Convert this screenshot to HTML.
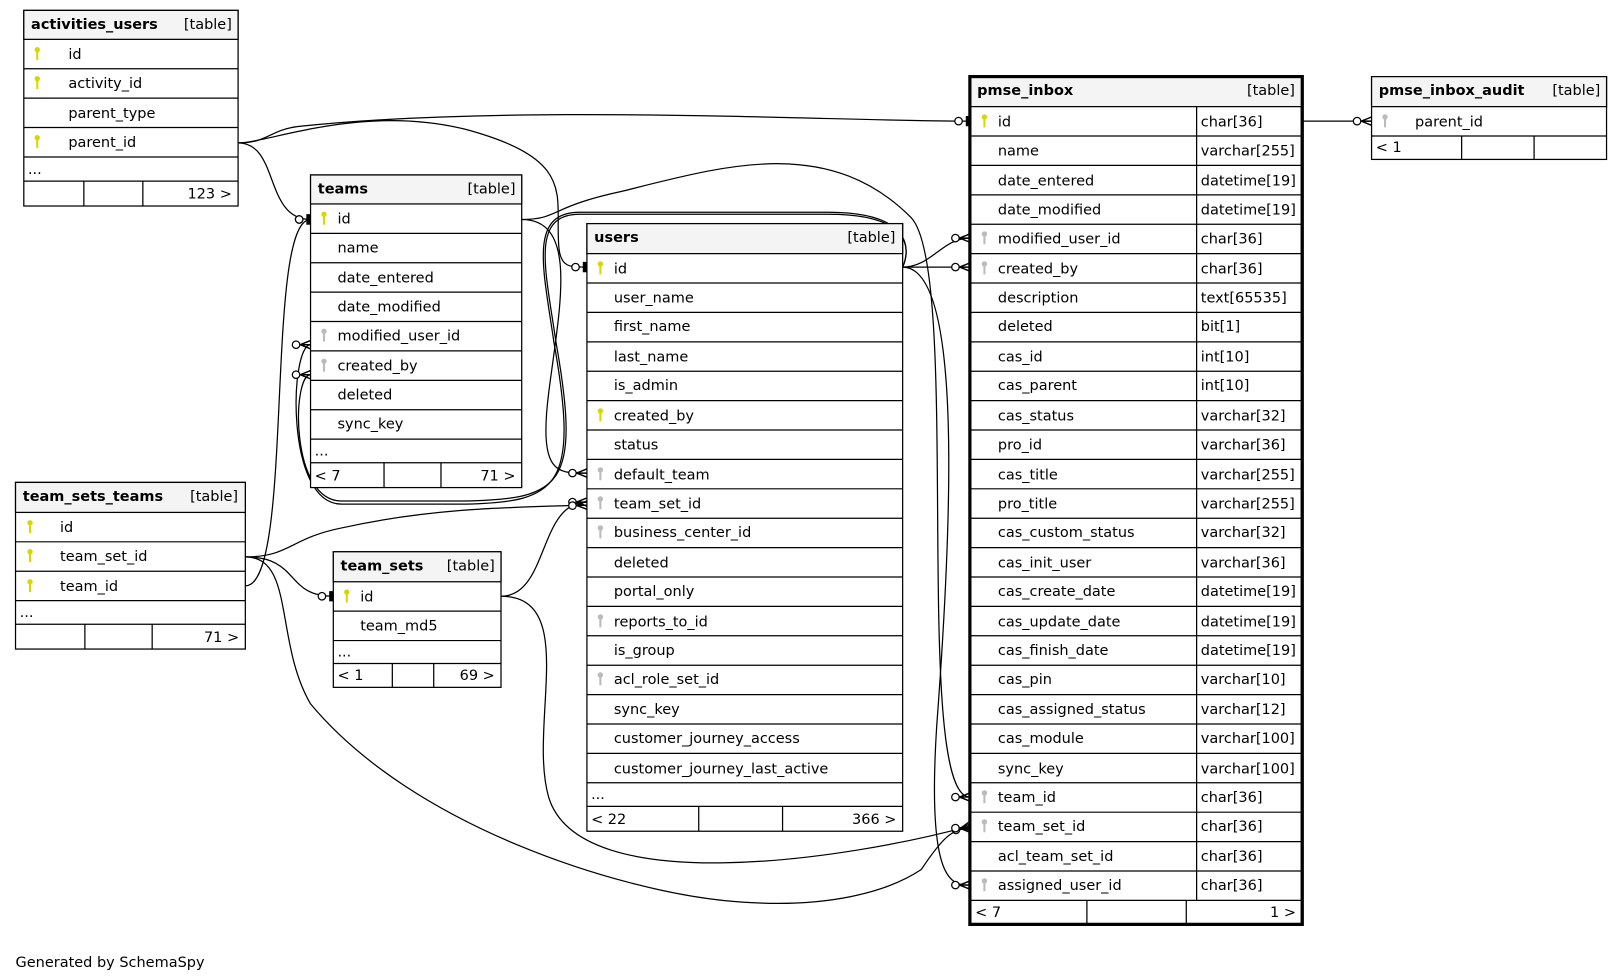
<!DOCTYPE html>
<html><head><meta charset="utf-8"><style>
html,body{margin:0;padding:0;background:#fff;}
svg{display:block;}
text{font-family:"DejaVu Sans","Liberation Sans",sans-serif;font-size:14px;fill:#000;}
.b{font-weight:bold;}
.r{text-anchor:end;}
.t{fill:#fff;stroke:#000;stroke-width:1.2;}
.h{fill:#f4f4f4;stroke:#000;stroke-width:1.2;}
.l{stroke:#000;stroke-width:1.2;}
.e{fill:none;stroke:#000;stroke-width:1.2;}
</style></head><body>
<svg width="1620" height="980" viewBox="0 0 1565 946.7" xmlns="http://www.w3.org/2000/svg">
<defs>
<marker id="many" markerUnits="userSpaceOnUse" markerWidth="24" markerHeight="16" refX="20" refY="8" orient="auto">
<circle cx="6" cy="8" r="3.6" fill="#fff" stroke="#000" stroke-width="1.2"/>
<path d="M10 8 L20 4 M10 8 L20 8 M10 8 L20 12" stroke="#000" stroke-width="1.4" fill="none"/>
</marker>
<marker id="one" markerUnits="userSpaceOnUse" markerWidth="24" markerHeight="16" refX="20" refY="8" orient="auto">
<circle cx="9" cy="8" r="3.6" fill="#fff" stroke="#000" stroke-width="1.2"/>
<path d="M17 3 L17 13 M19 3 L19 13" stroke="#000" stroke-width="2" fill="none"/>
</marker>
<g id="kg"><circle cx="0" cy="-4" r="2.6" fill="#d8d800"/><rect x="-1" y="-3" width="2" height="9" fill="#d8d800"/></g>
<g id="kw"><circle cx="0" cy="-4" r="2.6" fill="#bbb"/><rect x="-1" y="-3" width="2" height="9" fill="#bbb"/></g>
</defs>

<path class="e" d="M230,138 C260,138 260,125 290,122 C500,100 800,117 937,117" marker-end="url(#one)"/>
<path class="e" d="M230,138 C260,138 350,100 450,125 C560,155 535,190 540,240 C542,258 550,258 567,258" marker-end="url(#one)"/>
<path class="e" d="M230,138 C270,138 255,212 300,212" marker-end="url(#one)"/>
<path class="e" d="M237,566 C285,566 255,212 300,212" marker-end="url(#one)"/>
<path class="e" d="M504,212 C560,212 540,300 530,380 C520,460 540,457 567,457" marker-end="url(#many)"/>
<path class="e" d="M504,212 C540,212 530,200 600,185 C700,160 800,130 880,210 C930,260 880,770 937,770" marker-end="url(#many)"/>
<path class="e" d="M872,258 C900,258 910,230 937,230" marker-end="url(#many)"/>
<path class="e" d="M872,258 L937,258" marker-end="url(#many)"/>
<path class="e" d="M872,258 C930,258 920,500 905,700 C895,855 920,855 937,855" marker-end="url(#many)"/>
<path class="e" d="M872,258 C880,240 880,205 800,205 L560,205 C510,205 525,260 535,330 C560,470 540,485 450,487 L330,487 C275,487 280,333 300,333" marker-end="url(#many)"/>
<path class="e" d="M872,258 C880,240 880,207 800,207 L560,207 C512,207 527,260 537,330 C562,470 542,482 450,484 L330,484 C280,484 282,362 300,362" marker-end="url(#many)"/>
<path class="e" d="M484,576 C530,576 520,485 567,485" marker-end="url(#many)"/>
<path class="e" d="M484,576 C560,576 510,700 530,770 C560,870 820,830 937,798" marker-end="url(#many)"/>
<path class="e" d="M237,538 C290,538 275,576 322,576" marker-end="url(#one)"/>
<path class="e" d="M237,538 C280,538 280,520 330,510 C420,490 500,490 567,488" marker-end="url(#many)"/>
<path class="e" d="M237,538 C285,538 265,620 300,680 C400,800 600,860 700,870 C800,880 860,860 890,840 C910,810 920,800 937,800" marker-end="url(#many)"/>
<path class="e" d="M1258,117 L1325,117" marker-end="url(#many)"/>

<rect class="t" x="23" y="10" width="207" height="189"/>
<rect class="h" x="23" y="10" width="207" height="28"/>
<text class="b" x="30" y="28">activities_users</text><text class="r" x="224" y="28">[table]</text>
<line class="l" x1="23" x2="230" y1="66.4" y2="66.4"/><line class="l" x1="23" x2="230" y1="94.8" y2="94.8"/><line class="l" x1="23" x2="230" y1="123.2" y2="123.2"/><line class="l" x1="23" x2="230" y1="151.6" y2="151.6"/><line class="l" x1="23" x2="230" y1="175" y2="175"/>
<use href="#kg" x="36" y="52"/><text x="66" y="57">id</text>
<use href="#kg" x="36" y="80"/><text x="66" y="85">activity_id</text>
<text x="66" y="114">parent_type</text>
<use href="#kg" x="36" y="137"/><text x="66" y="142">parent_id</text>
<text x="27" y="168">...</text>
<line class="l" x1="81" x2="81" y1="175" y2="199"/><line class="l" x1="138" x2="138" y1="175" y2="199"/>
<text class="r" x="224" y="192">123 &gt;</text>

<rect class="t" x="300" y="169" width="204" height="302"/>
<rect class="h" x="300" y="169" width="204" height="28"/>
<text class="b" x="307" y="187">teams</text><text class="r" x="498" y="187">[table]</text>
<line class="l" x1="300" x2="504" y1="225.4" y2="225.4"/><line class="l" x1="300" x2="504" y1="253.8" y2="253.8"/><line class="l" x1="300" x2="504" y1="282.2" y2="282.2"/><line class="l" x1="300" x2="504" y1="310.6" y2="310.6"/><line class="l" x1="300" x2="504" y1="339" y2="339"/><line class="l" x1="300" x2="504" y1="367.4" y2="367.4"/><line class="l" x1="300" x2="504" y1="395.8" y2="395.8"/><line class="l" x1="300" x2="504" y1="424.2" y2="424.2"/><line class="l" x1="300" x2="504" y1="447" y2="447"/>
<use href="#kg" x="313" y="211"/><text x="326" y="216">id</text>
<text x="326" y="244">name</text>
<text x="326" y="273">date_entered</text>
<text x="326" y="301">date_modified</text>
<use href="#kw" x="313" y="324"/><text x="326" y="329">modified_user_id</text>
<use href="#kw" x="313" y="353"/><text x="326" y="358">created_by</text>
<text x="326" y="386">deleted</text>
<text x="326" y="414">sync_key</text>
<text x="304" y="440">...</text>
<line class="l" x1="371" x2="371" y1="447" y2="471"/><line class="l" x1="426" x2="426" y1="447" y2="471"/>
<text x="304" y="464">&lt; 7</text><text class="r" x="498" y="464">71 &gt;</text>

<rect class="t" x="567" y="216" width="305" height="587"/>
<rect class="h" x="567" y="216" width="305" height="29"/>
<text class="b" x="574" y="234">users</text><text class="r" x="865" y="234">[table]</text>
<line class="l" x1="567" x2="872" y1="273.4" y2="273.4"/><line class="l" x1="567" x2="872" y1="301.8" y2="301.8"/><line class="l" x1="567" x2="872" y1="330.2" y2="330.2"/><line class="l" x1="567" x2="872" y1="358.6" y2="358.6"/><line class="l" x1="567" x2="872" y1="387" y2="387"/><line class="l" x1="567" x2="872" y1="415.4" y2="415.4"/><line class="l" x1="567" x2="872" y1="443.8" y2="443.8"/><line class="l" x1="567" x2="872" y1="472.2" y2="472.2"/><line class="l" x1="567" x2="872" y1="500.6" y2="500.6"/><line class="l" x1="567" x2="872" y1="529" y2="529"/><line class="l" x1="567" x2="872" y1="557.4" y2="557.4"/><line class="l" x1="567" x2="872" y1="585.8" y2="585.8"/><line class="l" x1="567" x2="872" y1="614.2" y2="614.2"/><line class="l" x1="567" x2="872" y1="642.6" y2="642.6"/><line class="l" x1="567" x2="872" y1="671" y2="671"/><line class="l" x1="567" x2="872" y1="699.4" y2="699.4"/><line class="l" x1="567" x2="872" y1="727.8" y2="727.8"/><line class="l" x1="567" x2="872" y1="756.2" y2="756.2"/><line class="l" x1="567" x2="872" y1="779" y2="779"/>
<use href="#kg" x="580" y="259"/><text x="593" y="264">id</text>
<text x="593" y="292">user_name</text>
<text x="593" y="320">first_name</text>
<text x="593" y="349">last_name</text>
<text x="593" y="377">is_admin</text>
<use href="#kg" x="580" y="401"/><text x="593" y="406">created_by</text>
<text x="593" y="434">status</text>
<use href="#kw" x="580" y="458"/><text x="593" y="463">default_team</text>
<use href="#kw" x="580" y="486"/><text x="593" y="491">team_set_id</text>
<use href="#kw" x="580" y="514"/><text x="593" y="519">business_center_id</text>
<text x="593" y="548">deleted</text>
<text x="593" y="576">portal_only</text>
<use href="#kw" x="580" y="600"/><text x="593" y="605">reports_to_id</text>
<text x="593" y="633">is_group</text>
<use href="#kw" x="580" y="656"/><text x="593" y="661">acl_role_set_id</text>
<text x="593" y="690">sync_key</text>
<text x="593" y="718">customer_journey_access</text>
<text x="593" y="747">customer_journey_last_active</text>
<text x="571" y="772">...</text>
<line class="l" x1="675" x2="675" y1="779" y2="803"/><line class="l" x1="756" x2="756" y1="779" y2="803"/>
<text x="571" y="796">&lt; 22</text><text class="r" x="866" y="796">366 &gt;</text>

<rect class="t" x="937" y="74" width="321" height="819" style="stroke-width:3"/>
<rect class="h" x="937" y="74" width="321" height="29" style="stroke-width:1.2"/>
<rect x="937" y="74" width="321" height="819" fill="none" stroke="#000" stroke-width="3"/>
<text class="b" x="944" y="92">pmse_inbox</text><text class="r" x="1251" y="92">[table]</text>
<line class="l" x1="1156" x2="1156" y1="103" y2="870"/>
<line class="l" x1="937" x2="1258" y1="131.4" y2="131.4"/><line class="l" x1="937" x2="1258" y1="159.8" y2="159.8"/><line class="l" x1="937" x2="1258" y1="188.2" y2="188.2"/><line class="l" x1="937" x2="1258" y1="216.6" y2="216.6"/><line class="l" x1="937" x2="1258" y1="245" y2="245"/><line class="l" x1="937" x2="1258" y1="273.4" y2="273.4"/><line class="l" x1="937" x2="1258" y1="301.8" y2="301.8"/><line class="l" x1="937" x2="1258" y1="330.2" y2="330.2"/><line class="l" x1="937" x2="1258" y1="358.6" y2="358.6"/><line class="l" x1="937" x2="1258" y1="387" y2="387"/><line class="l" x1="937" x2="1258" y1="415.4" y2="415.4"/><line class="l" x1="937" x2="1258" y1="443.8" y2="443.8"/><line class="l" x1="937" x2="1258" y1="472.2" y2="472.2"/><line class="l" x1="937" x2="1258" y1="500.6" y2="500.6"/><line class="l" x1="937" x2="1258" y1="529" y2="529"/><line class="l" x1="937" x2="1258" y1="557.4" y2="557.4"/><line class="l" x1="937" x2="1258" y1="585.8" y2="585.8"/><line class="l" x1="937" x2="1258" y1="614.2" y2="614.2"/><line class="l" x1="937" x2="1258" y1="642.6" y2="642.6"/><line class="l" x1="937" x2="1258" y1="671" y2="671"/><line class="l" x1="937" x2="1258" y1="699.4" y2="699.4"/><line class="l" x1="937" x2="1258" y1="727.8" y2="727.8"/><line class="l" x1="937" x2="1258" y1="756.2" y2="756.2"/><line class="l" x1="937" x2="1258" y1="784.6" y2="784.6"/><line class="l" x1="937" x2="1258" y1="813" y2="813"/><line class="l" x1="937" x2="1258" y1="841.4" y2="841.4"/><line class="l" x1="937" x2="1258" y1="869.8" y2="869.8"/>
<use href="#kg" x="951" y="117"/><text x="964" y="122">id</text><text x="1160" y="122">char[36]</text>
<text x="964" y="150">name</text><text x="1160" y="150">varchar[255]</text>
<text x="964" y="179">date_entered</text><text x="1160" y="179">datetime[19]</text>
<text x="964" y="207">date_modified</text><text x="1160" y="207">datetime[19]</text>
<use href="#kw" x="951" y="230"/><text x="964" y="235">modified_user_id</text><text x="1160" y="235">char[36]</text>
<use href="#kw" x="951" y="259"/><text x="964" y="264">created_by</text><text x="1160" y="264">char[36]</text>
<text x="964" y="292">description</text><text x="1160" y="292">text[65535]</text>
<text x="964" y="320">deleted</text><text x="1160" y="320">bit[1]</text>
<text x="964" y="349">cas_id</text><text x="1160" y="349">int[10]</text>
<text x="964" y="377">cas_parent</text><text x="1160" y="377">int[10]</text>
<text x="964" y="406">cas_status</text><text x="1160" y="406">varchar[32]</text>
<text x="964" y="434">pro_id</text><text x="1160" y="434">varchar[36]</text>
<text x="964" y="463">cas_title</text><text x="1160" y="463">varchar[255]</text>
<text x="964" y="491">pro_title</text><text x="1160" y="491">varchar[255]</text>
<text x="964" y="519">cas_custom_status</text><text x="1160" y="519">varchar[32]</text>
<text x="964" y="548">cas_init_user</text><text x="1160" y="548">varchar[36]</text>
<text x="964" y="576">cas_create_date</text><text x="1160" y="576">datetime[19]</text>
<text x="964" y="605">cas_update_date</text><text x="1160" y="605">datetime[19]</text>
<text x="964" y="633">cas_finish_date</text><text x="1160" y="633">datetime[19]</text>
<text x="964" y="661">cas_pin</text><text x="1160" y="661">varchar[10]</text>
<text x="964" y="690">cas_assigned_status</text><text x="1160" y="690">varchar[12]</text>
<text x="964" y="718">cas_module</text><text x="1160" y="718">varchar[100]</text>
<text x="964" y="747">sync_key</text><text x="1160" y="747">varchar[100]</text>
<use href="#kw" x="951" y="770"/><text x="964" y="775">team_id</text><text x="1160" y="775">char[36]</text>
<use href="#kw" x="951" y="798"/><text x="964" y="803">team_set_id</text><text x="1160" y="803">char[36]</text>
<text x="964" y="832">acl_team_set_id</text><text x="1160" y="832">char[36]</text>
<use href="#kw" x="951" y="855"/><text x="964" y="860">assigned_user_id</text><text x="1160" y="860">char[36]</text>
<line class="l" x1="1050" x2="1050" y1="870" y2="892"/><line class="l" x1="1146" x2="1146" y1="870" y2="892"/>
<text x="942" y="886">&lt; 7</text><text class="r" x="1252" y="886">1 &gt;</text>

<rect class="t" x="1325" y="74" width="227" height="80"/>
<rect class="h" x="1325" y="74" width="227" height="29"/>
<text class="b" x="1332" y="92">pmse_inbox_audit</text><text class="r" x="1546" y="92">[table]</text>
<line class="l" x1="1325" x2="1552" y1="131.4" y2="131.4"/>
<use href="#kw" x="1338" y="117"/><text x="1367" y="122">parent_id</text>
<line class="l" x1="1412" x2="1412" y1="131" y2="154"/><line class="l" x1="1482" x2="1482" y1="131" y2="154"/>
<text x="1329" y="147">&lt; 1</text>

<rect class="t" x="15" y="466" width="222" height="161"/>
<rect class="h" x="15" y="466" width="222" height="29"/>
<text class="b" x="22" y="484">team_sets_teams</text><text class="r" x="230" y="484">[table]</text>
<line class="l" x1="15" x2="237" y1="523.4" y2="523.4"/><line class="l" x1="15" x2="237" y1="551.8" y2="551.8"/><line class="l" x1="15" x2="237" y1="580.2" y2="580.2"/><line class="l" x1="15" x2="237" y1="603" y2="603"/>
<use href="#kg" x="29" y="509"/><text x="58" y="514">id</text>
<use href="#kg" x="29" y="537"/><text x="58" y="542">team_set_id</text>
<use href="#kg" x="29" y="566"/><text x="58" y="571">team_id</text>
<text x="19" y="596">...</text>
<line class="l" x1="82" x2="82" y1="603" y2="627"/><line class="l" x1="147" x2="147" y1="603" y2="627"/>
<text class="r" x="231" y="620">71 &gt;</text>

<rect class="t" x="322" y="533" width="162" height="131"/>
<rect class="h" x="322" y="533" width="162" height="29"/>
<text class="b" x="329" y="551">team_sets</text><text class="r" x="478" y="551">[table]</text>
<line class="l" x1="322" x2="484" y1="590.4" y2="590.4"/><line class="l" x1="322" x2="484" y1="618.8" y2="618.8"/><line class="l" x1="322" x2="484" y1="641" y2="641"/>
<use href="#kg" x="335" y="576"/><text x="348" y="581">id</text>
<text x="348" y="609">team_md5</text>
<text x="326" y="634">...</text>
<line class="l" x1="379" x2="379" y1="641" y2="664"/><line class="l" x1="419" x2="419" y1="641" y2="664"/>
<text x="326" y="657">&lt; 1</text><text class="r" x="478" y="657">69 &gt;</text>

<text x="15" y="934">Generated by SchemaSpy</text>
</svg>
</body></html>
